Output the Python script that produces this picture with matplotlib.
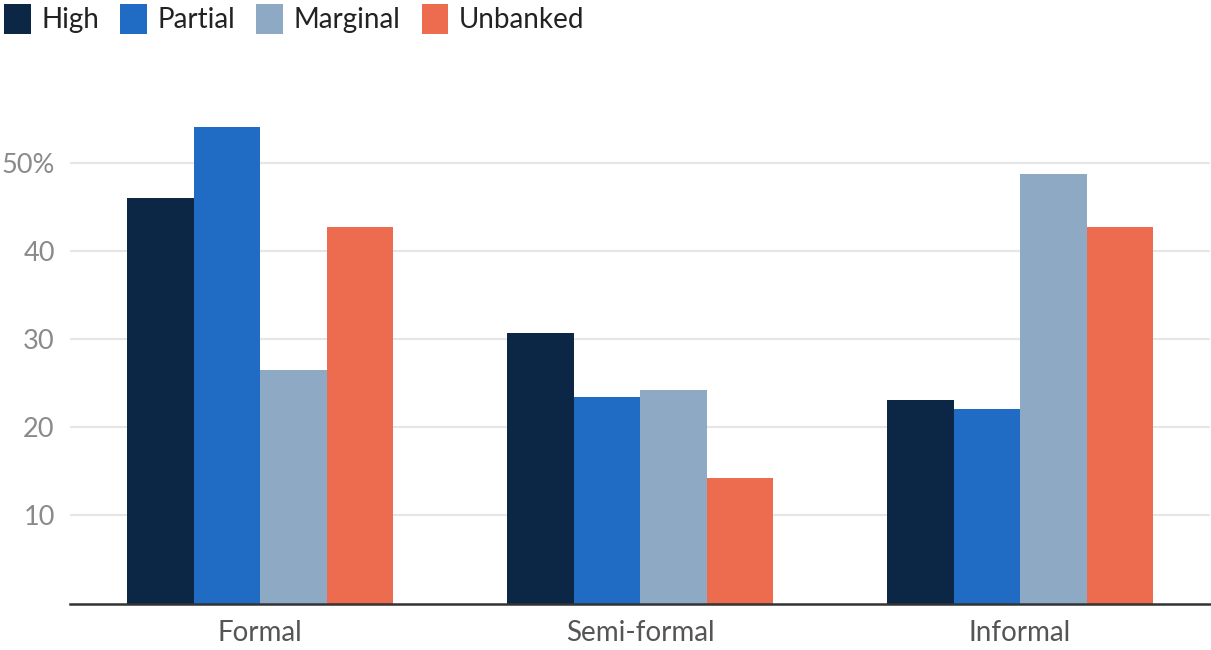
import numpy as np
import matplotlib
matplotlib.use("Agg")
import matplotlib.pyplot as plt
from matplotlib.patches import Patch

# Share of respondents by savings channel and banking status
categories = ["Formal", "Semi-formal", "Informal"]
series_names = ["High", "Partial", "Marginal", "Unbanked"]
high = [46.1, 30.7, 23.1]
partial = [54.1, 23.5, 22.1]
marginal = [26.5, 24.3, 48.8]
unbanked = [42.75, 14.3, 42.75]
y_ticks = [10, 20, 30, 40, 50]
y_tick_labels = ["10", "20", "30", "40", "50%"]

colors = ["#0c2645", "#206bc4", "#8ea9c4", "#ed6b4e"]

plt.rcParams["font.family"] = ["Lato", "DejaVu Sans"]

fig = plt.figure(figsize=(12.11, 6.5), dpi=100)
ax = fig.add_axes([70 / 1211, 46.5 / 650, 1140 / 1211, (603.5 - 93) / 650])

x = np.arange(len(categories))
width = 0.175
values = [high, partial, marginal, unbanked]
for i, (vals, col) in enumerate(zip(values, colors)):
    ax.bar(x + (i - 1.5) * width, vals, width, color=col, zorder=3)

ax.set_xlim(-0.5, 2.5)
ax.set_ylim(0, 58)
ax.set_yticks(y_ticks)
ax.set_yticklabels(y_tick_labels)
ax.set_xticks(x)
ax.set_xticklabels(categories)

ax.grid(axis="y", color="#e6e6e6", linewidth=1.6, zorder=0)
for side in ["top", "right", "left"]:
    ax.spines[side].set_visible(False)
ax.spines["bottom"].set_color("#333333")
ax.spines["bottom"].set_linewidth(1.8)
ax.spines["bottom"].set_zorder(4)

ax.tick_params(axis="y", length=0, pad=11, labelsize=19.5, labelcolor="#8a8a8a")
ax.tick_params(axis="x", length=0, pad=12, labelsize=20, labelcolor="#555555")

handles = [Patch(facecolor=c, edgecolor="none") for c in colors]
fig.legend(handles, series_names, loc="upper left", bbox_to_anchor=(0.0, 1.0),
           borderaxespad=0.0, borderpad=0.15,
           ncol=4, frameon=False, fontsize=20, handlelength=0.95, handleheight=1.25,
           handletextpad=0.4, columnspacing=0.75, labelcolor="#222222")

fig.savefig("out.png", dpi=100)
